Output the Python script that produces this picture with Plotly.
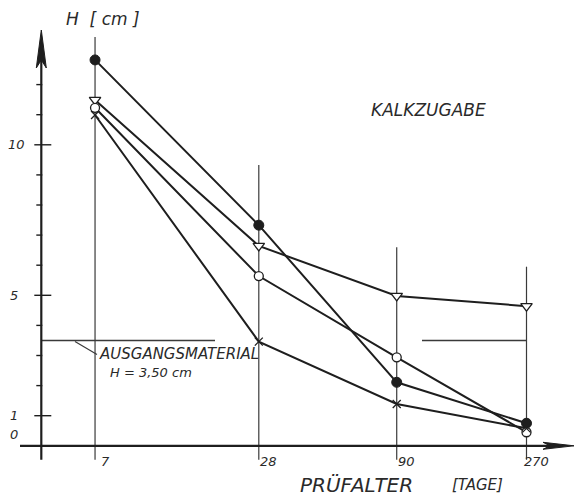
import numpy as np
import plotly.graph_objects as go

# ---------------- data ----------------
days = [7, 28, 90, 270]
day_labels = ["7", "28", "90", "270"]
filled_circle = [12.82, 7.33, 2.11, 0.75]
open_triangle = [11.49, 6.64, 4.98, 4.64]
open_circle = [11.23, 5.64, 2.94, 0.45]
cross = [10.99, 3.46, 1.39, 0.58]
y_tick_labels = [0, 1, 5, 10]
y_minor_ticks = [1, 2, 3, 4, 5, 6, 7, 8, 9, 10, 11, 12]
y_major_ticks = [1, 5, 10]
baseline_h = 3.5

# ---------------- layout helpers ----------------
INK = "#1e1e1e"
GRID = "#3a3a3a"
XL = np.log10(days)
x0 = 0.4957          # log10 value at left edge
PXX = 272.0           # px per decade
PXY = 30.1            # px per unit of H
Y_AT_TOP = 445.8 / PXY
def px_x(p):
    return x0 + p / PXX
def dx(p):
    return p / PXX
def dy(p):
    return p / PXY

FONT = dict(family="DejaVu Sans", color="#2a2a2a", style="italic")

fig = go.Figure()

series = [
    (filled_circle, dict(symbol="circle", size=10, color=INK, line=dict(color=INK, width=1))),
    (open_triangle, dict(symbol="triangle-down", size=10, color="white", line=dict(color=INK, width=1.3))),
    (open_circle, dict(symbol="circle", size=9, color="white", line=dict(color=INK, width=1.3))),
    (cross, dict(symbol="x-thin", size=8, color=INK, line=dict(color=INK, width=1.3))),
]
for vals, mk in series:
    fig.add_trace(go.Scatter(x=XL, y=vals, mode="lines",
                             line=dict(color=INK, width=2), hoverinfo="skip"))
for vals, mk in series:
    fig.add_trace(go.Scatter(x=XL, y=vals, mode="markers", marker=mk, hoverinfo="skip"))

shapes = []
# vertical guide lines at each test age
grid_tops = [13.58, 9.33, 6.6, 5.95]
for xv, top in zip(XL, grid_tops):
    shapes.append(dict(type="line", x0=xv, x1=xv, y0=-dy(14), y1=top,
                       line=dict(color=GRID, width=1.2), layer="below"))

# y axis
yax = px_x(41.3)
shapes.append(dict(type="line", x0=yax, x1=yax, y0=-dy(14), y1=13.3,
                   line=dict(color=INK, width=2.2)))
shapes.append(dict(type="path",
                   path=f"M {yax} {Y_AT_TOP - dy(30)} L {yax - dx(5)} {Y_AT_TOP - dy(68)} "
                        f"L {yax} {Y_AT_TOP - dy(60)} L {yax + dx(5)} {Y_AT_TOP - dy(68)} Z",
                   fillcolor=INK, line=dict(color=INK, width=1)))
# x axis
shapes.append(dict(type="line", x0=px_x(20), x1=px_x(560), y0=0, y1=0,
                   line=dict(color=INK, width=2.2)))
shapes.append(dict(type="path",
                   path=f"M {px_x(574)} 0 L {px_x(543)} {dy(3.5)} L {px_x(550)} 0 "
                        f"L {px_x(543)} {-dy(3.5)} Z",
                   fillcolor=INK, line=dict(color=INK, width=1)))
# y ticks
for t in y_minor_ticks:
    if t in y_major_ticks:
        shapes.append(dict(type="line", x0=yax - dx(7), x1=yax + dx(10), y0=t, y1=t,
                           line=dict(color=INK, width=1.4)))
    else:
        shapes.append(dict(type="line", x0=yax - dx(5), x1=yax + dx(1), y0=t, y1=t,
                           line=dict(color=INK, width=1.4)))

# baseline (Ausgangsmaterial) reference
shapes.append(dict(type="line", x0=yax, x1=px_x(215), y0=baseline_h, y1=baseline_h,
                   line=dict(color=GRID, width=1.4), layer="below"))
shapes.append(dict(type="line", x0=px_x(422), x1=XL[-1], y0=baseline_h, y1=baseline_h,
                   line=dict(color=GRID, width=1.4), layer="below"))
shapes.append(dict(type="line", x0=px_x(75), x1=px_x(97), y0=baseline_h - dy(1),
                   y1=baseline_h - dy(14), line=dict(color=GRID, width=1.2)))

annotations = []
# y tick labels
for t in y_tick_labels:
    yy = t + (dy(11) if t == 0 else 0)
    xx = px_x(16) if t == 10 else px_x(14)
    annotations.append(dict(x=xx, y=yy, text=str(t), showarrow=False,
                            font=dict(size=13, **FONT), xanchor="center", yanchor="middle"))
# x tick labels
for xv, lab in zip(XL, day_labels):
    annotations.append(dict(x=xv + dx(10), y=-dy(16), text=lab, showarrow=False,
                            font=dict(size=13, **FONT), xanchor="center", yanchor="middle"))

annotations += [
    dict(x=px_x(64), y=Y_AT_TOP - dy(19), text="H  [ cm ]", showarrow=False,
         font=dict(size=17, **FONT), xanchor="left", yanchor="middle"),
    dict(x=px_x(369), y=Y_AT_TOP - dy(110), text="KALKZUGABE", showarrow=False,
         font=dict(size=17, **FONT), xanchor="left", yanchor="middle"),
    dict(x=px_x(298), y=Y_AT_TOP - dy(485), text="PRÜFALTER", showarrow=False,
         font=dict(size=20, **FONT), xanchor="left", yanchor="middle"),
    dict(x=px_x(450), y=Y_AT_TOP - dy(485), text="[TAGE]", showarrow=False,
         font=dict(size=15, **FONT), xanchor="left", yanchor="middle"),
    dict(x=px_x(97), y=baseline_h - dy(14), text="AUSGANGSMATERIAL", showarrow=False,
         font=dict(size=15, **FONT), xanchor="left", yanchor="middle"),
    dict(x=px_x(108), y=baseline_h - dy(32), text="H = 3,50 cm", showarrow=False,
         font=dict(size=13, **FONT), xanchor="left", yanchor="middle"),
]

fig.update_layout(
    width=576, height=498,
    margin=dict(l=0, r=0, t=0, b=0),
    paper_bgcolor="white", plot_bgcolor="white",
    showlegend=False,
    xaxis=dict(range=[x0, x0 + 576 / PXX], visible=False, fixedrange=True),
    yaxis=dict(range=[Y_AT_TOP - 498 / PXY, Y_AT_TOP], visible=False, fixedrange=True),
    shapes=shapes,
    annotations=annotations,
)

fig.write_html("out.html")
